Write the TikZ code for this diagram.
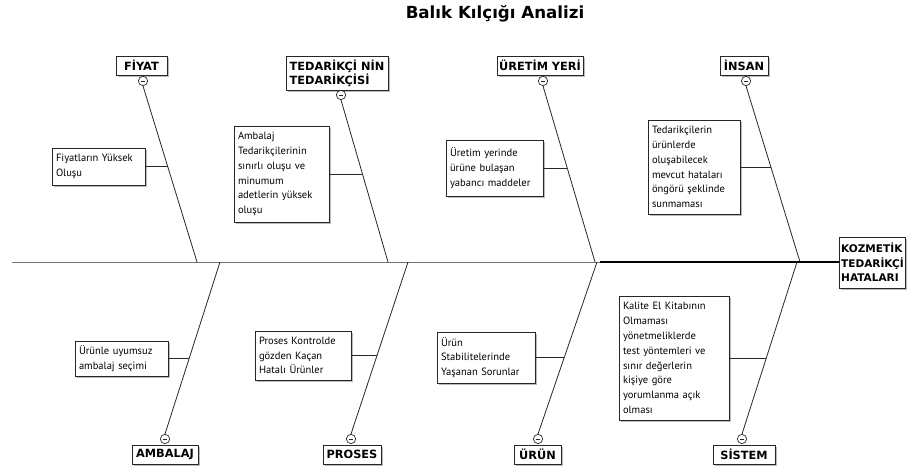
\documentclass[tikz,border=0pt]{standalone}
\usepackage{fontspec}
\setmainfont{PT Sans}
\newfontfamily\labfont{DejaVu Sans}
\usetikzlibrary{calc,shadows}
\begin{document}
\begin{tikzpicture}[x=0.75pt,y=-0.75pt,
  shad/.style={drop shadow={shadow xshift=1.2pt,shadow yshift=-1.2pt,fill=black!45,opacity=.6}},
  cause/.style={draw=black!85,fill=white,line width=0.6pt,align=left,inner xsep=3pt,inner ysep=0pt,
    font=\fontsize{7.9}{11.1}\selectfont,shad},
  cat/.style={draw=black!85,fill=white,line width=0.6pt,align=left,inner xsep=1pt,inner ysep=0pt,
    font=\labfont\fontsize{8.5}{10.6}\selectfont\bfseries,shad},
  headbox/.style={cat,font=\labfont\fontsize{7.9}{10.8}\selectfont\bfseries},
  minus/.style={circle,draw=black!85,fill=white,line width=0.5pt,minimum size=7pt,inner sep=0pt},
  bone/.style={draw=black!85,line width=0.6pt}]
\useasboundingbox (0,0) rectangle (919,470);
% title
\node[font=\labfont\fontsize{12.5}{15}\selectfont\bfseries] (title) at (495,14) {Balık Kılçığı Analizi};
% head
\node[headbox,minimum width=48.75pt,minimum height=38.25pt] (H) at (872.5,262.5) {KOZMETİK\\TEDARİKÇİ\\HATALARI};
% spine
\coordinate (L) at (12,262);
\coordinate (M) at (600,262);
\draw[black!55,line width=0.7pt] (L) -- (M);
\draw[black,line width=1.4pt] (M) -- (H.west |- M);
% spine points
\coordinate (sF) at (197,262);
\coordinate (sT) at (388,262);
\coordinate (sU) at (595,262);
\coordinate (sI) at (800,262);
\coordinate (sA) at (220,262);
\coordinate (sP) at (408,262);
\coordinate (sR) at (597,262);
\coordinate (sS) at (797,262);
% category boxes
\node[cat,minimum width=38.25pt,minimum height=14.25pt] (kF) at (141.5,65.5) {FİYAT};
\node[cat,minimum width=76.5pt,minimum height=25.5pt] (kT) at (337,73) {TEDARİKÇİ NİN\\TEDARİKÇİSİ};
\node[cat,minimum width=64.5pt,minimum height=14.25pt] (kU) at (540,65.5) {ÜRETİM YERİ};
\node[cat,minimum width=36pt,minimum height=14.25pt] (kI) at (744,65.5) {İNSAN};
\node[cat,minimum width=49.5pt,minimum height=14.25pt] (kA) at (165,454.5) {AMBALAJ};
\node[cat,minimum width=43.5pt,minimum height=14.25pt] (kP) at (352,454.5) {PROSES};
\node[cat,minimum width=35.25pt,minimum height=14.25pt] (kR) at (537.5,454.5) {ÜRÜN};
\node[cat,minimum width=46.5pt,minimum height=14.25pt] (kS) at (744,454.5) {SİSTEM};
% minus circles
\node[minus] (cF) at (143,81) {};
\node[minus] (cT) at (341,95) {};
\node[minus] (cU) at (543,81) {};
\node[minus] (cI) at (746,81) {};
\node[minus] (cA) at (165,439) {};
\node[minus] (cP) at (351,439) {};
\node[minus] (cR) at (538,439) {};
\node[minus] (cS) at (742,439) {};
\foreach \c in {cF,cT,cU,cI,cA,cP,cR,cS}{
  \draw[black!85,line width=0.6pt] ([xshift=-1.8pt]\c.center) -- ([xshift=1.8pt]\c.center);
}
% bones
\draw[bone] (cF.south) -- (sF);
\draw[bone] (cT.south) -- (sT);
\draw[bone] (cU.south) -- (sU);
\draw[bone] (cI.south) -- (sI);
\draw[bone] (sA) -- (cA.north);
\draw[bone] (sP) -- (cP.north);
\draw[bone] (sR) -- (cR.north);
\draw[bone] (sS) -- (cS.north);
% cause boxes
\node[cause,text width=63.75pt,minimum height=27.75pt] (F1) at (98.5,166.5) {Fiyatların Yüksek\\Oluşu};
\node[cause,text width=65.25pt,minimum height=72pt] (T1) at (281.5,174) {Ambalaj\\Tedarikçilerinin\\sınırlı oluşu ve\\minumum\\adetlerin yüksek\\oluşu};
\node[cause,text width=66.75pt,minimum height=42pt] (U1) at (494.5,168) {Üretim yerinde\\ürüne bulaşan\\yabancı maddeler};
\node[cause,text width=63pt,minimum height=70.5pt] (I1) at (694,167) {Tedarikçilerin\\ürünlerde\\oluşabilecek\\mevcut hataları\\öngörü şeklinde\\sunmaması};
\node[cause,text width=63.75pt,minimum height=26.25pt] (A1) at (121.5,358.5) {Ürünle uyumsuz\\ambalaj seçimi};
\node[cause,text width=66pt,minimum height=36.75pt] (P1) at (303,355.5) {Proses Kontrolde\\gözden Kaçan\\Hatalı Ürünler};
\node[cause,text width=67.5pt,minimum height=38.25pt] (R1) at (486,357.5) {Ürün\\Stabilitelerinde\\Yaşanan Sorunlar};
\node[cause,text width=76.5pt,minimum height=93pt] (S1) at (674,358) {Kalite El Kitabının\\Olmaması\\yönetmeliklerde\\test yöntemleri ve\\sınır değerlerin\\kişiye göre\\yorumlanma açık\\olması};
% bone points for connectors
\coordinate (bF) at ($(cF.south)!0.46!(sF)$);
\coordinate (bT) at ($(cT.south)!0.45!(sT)$);
\coordinate (bU) at ($(cU.south)!0.46!(sU)$);
\coordinate (bI) at ($(cI.south)!0.46!(sI)$);
\coordinate (bA) at ($(sA)!0.56!(cA.north)$);
\coordinate (bP) at ($(sP)!0.55!(cP.north)$);
\coordinate (bR) at ($(sR)!0.56!(cR.north)$);
\coordinate (bS) at ($(sS)!0.56!(cS.north)$);
\draw[bone] (F1.east) -- (F1.east -| bF);
\draw[bone] (T1.east) -- (T1.east -| bT);
\draw[bone] (U1.east) -- (U1.east -| bU);
\draw[bone] (I1.east) -- (I1.east -| bI);
\draw[bone] (A1.east) -- (A1.east -| bA);
\draw[bone] (P1.east) -- (P1.east -| bP);
\draw[bone] (R1.east) -- (R1.east -| bR);
\draw[bone] (S1.east) -- (S1.east -| bS);
\end{tikzpicture}
\end{document}
